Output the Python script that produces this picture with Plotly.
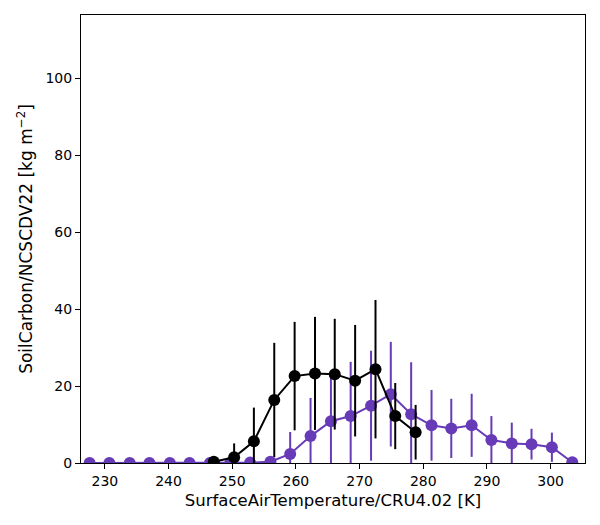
import plotly.graph_objects as go

# Purple series (benchmark relationship)
purple_x = [227.6, 230.7, 233.9, 237.0, 240.2, 243.3, 246.5, 249.7, 252.8, 256.0,
            259.1, 262.3, 265.5, 268.6, 271.8, 274.9, 278.1, 281.3, 284.4, 287.6,
            290.7, 293.9, 297.0, 300.2, 303.4]
purple_y = [0.0, 0.0, 0.0, 0.0, 0.0, 0.0, 0.0, 0.0, 0.1, 0.35,
            2.35, 7.0, 10.85, 12.2, 14.9, 17.9, 12.7, 9.8, 9.0, 9.8,
            6.0, 5.1, 4.9, 4.1, 0.2]
purple_err = [0.0, 0.0, 0.0, 0.0, 0.0, 0.0, 0.0, 0.0, 0.2, 0.5,
              5.7, 9.9, 11.9, 14.1, 14.3, 13.6, 13.5, 9.2, 7.7, 8.2,
              6.2, 5.4, 4.0, 3.8, 0.3]

# Black series
black_x = [247.1, 250.3, 253.4, 256.6, 259.8, 263.0, 266.1, 269.3, 272.5, 275.6, 278.8]
black_y = [0.35, 1.5, 5.65, 16.4, 22.6, 23.3, 23.1, 21.4, 24.4, 12.2, 8.0]
black_err = [0.5, 3.6, 8.75, 14.85, 14.1, 14.7, 14.4, 14.5, 18.0, 8.6, 7.1]

purple = "#673AB7"
black = "#000000"

fig = go.Figure()
fig.add_trace(go.Scatter(
    x=purple_x, y=purple_y, mode="lines+markers",
    line=dict(color=purple, width=2),
    marker=dict(color=purple, size=12),
    error_y=dict(type="data", array=purple_err, visible=True,
                 color=purple, thickness=2, width=0),
    showlegend=False))
fig.add_trace(go.Scatter(
    x=black_x, y=black_y, mode="lines+markers",
    line=dict(color=black, width=2),
    marker=dict(color=black, size=12),
    error_y=dict(type="data", array=black_err, visible=True,
                 color=black, thickness=2, width=0),
    showlegend=False))

font = "DejaVu Sans"
# page body has an 8px default margin, compensate in the figure margins
fig.update_layout(
    width=600, height=525,
    margin=dict(l=73, r=23, t=7, b=70),
    plot_bgcolor="white", paper_bgcolor="white",
    font=dict(family=font, color="black", size=14),
)
fig.update_xaxes(
    range=[226.25, 305.4], tickmode="array",
    tickvals=[230, 240, 250, 260, 270, 280, 290, 300],
    ticks="outside", ticklen=5, tickwidth=1, tickcolor="black",
    showline=True, linecolor="black", linewidth=1, mirror=True,
    showgrid=False, zeroline=False,
    tickfont=dict(size=14),
    title=dict(text="SurfaceAirTemperature/CRU4.02 [K]", font=dict(size=16.5), standoff=6),
)
fig.update_yaxes(
    range=[0, 116.5], tickmode="array",
    tickvals=[0, 20, 40, 60, 80, 100],
    ticks="outside", ticklen=5, tickwidth=1, tickcolor="black",
    showline=True, linecolor="black", linewidth=1, mirror=True,
    showgrid=False, zeroline=False,
    tickfont=dict(size=14),
    title=dict(text="SoilCarbon/NCSCDV22 [kg m<sup>\u22122</sup>]", font=dict(size=17), standoff=8),
)

fig.write_html("out.html")
